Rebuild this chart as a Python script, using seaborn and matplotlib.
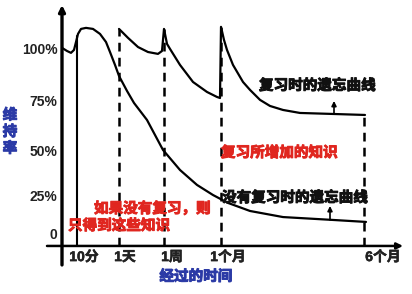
import numpy as np
import pandas as pd
import matplotlib
matplotlib.use("Agg")
import matplotlib.pyplot as plt
import matplotlib.patheffects as pe
import seaborn as sns

# ---------------- data ----------------
tick_labels = ["10分", "1天", "1周", "1个月", "6个月"]
tick_pos = [1.5, 5.7, 10.2, 15.9, 30.2]          # time positions on the (non-linear) time axis

ytick_values = [0, 25, 50, 75, 100]
ytick_labels = ["0", "25%", "50%", "75%", "100%"]

# forgetting curve without review
noreview_x = [0, 0.5, 0.9, 1.2, 1.4, 1.6, 1.9, 2.4, 3.1, 3.8, 4.4, 4.8, 5.3, 5.7,
              6.5, 7.2, 8.5, 10.1, 11.8, 13.5, 15.1, 16.6, 18.8, 22.1, 27.1, 30.4]
noreview_y = [101.0, 99.5, 98.6, 100.0, 103.8, 107.7, 110.1, 110.6, 110.1, 107.7, 103.8,
              99.0, 92.8, 87.5, 80.3, 74.5, 66.0, 51.0, 40.0, 31.7, 26.1, 21.1, 15.8,
              11.8, 9.9, 8.6]

# forgetting curve with review (reviews at 1天, 1周, 1个月)
review_x = [5.7, 6.1, 6.6, 7.6, 8.6, 9.6, 10.0, 10.2, 10.5, 10.8, 11.8, 13.1, 14.5,
            15.5, 15.8, 15.9, 16.2, 16.5, 17.1, 18.1, 18.8, 19.8, 20.8, 22.1, 23.8,
            27.1, 30.3]
review_y = [110.1, 108.2, 105.8, 101.4, 99.0, 98.1, 99.5, 110.1, 102.9, 100.5, 92.8,
            84.6, 79.8, 77.4, 76.9, 111.1, 104.8, 100.0, 92.8, 84.6, 80.8, 76.0, 73.0,
            71.0, 69.5, 69.0, 68.5]

# ---------------- style ----------------
sns.set_theme(style="white")
plt.rcParams["font.family"] = ["Noto Sans CJK SC", "DejaVu Sans"]

fig = plt.figure(figsize=(4.12, 2.94), dpi=100)
fig.patch.set_facecolor("white")
ax = fig.add_axes([0, 0, 1, 1])

# hand-drawn, uneven percentage axis -> piecewise-linear scale
P = [-60, 0, 25, 50, 75, 100, 160]
H = [-91.2, 0, 38, 83, 133, 185, 309.8]
fwd = lambda v: np.interp(v, P, H)
inv = lambda v: np.interp(v, H, P)
ax.set_yscale("function", functions=(fwd, inv))
ax.set_xlim(-6.2, 35.0)
ax.set_ylim(-38.8, 124.0)
ax.axis("off")

df_no = pd.DataFrame({"t": noreview_x, "r": noreview_y})
df_rv = pd.DataFrame({"t": review_x, "r": review_y})
sns.lineplot(data=df_no, x="t", y="r", sort=False, estimator=None, color="black",
             lw=1.6, ax=ax)
sns.lineplot(data=df_rv, x="t", y="r", sort=False, estimator=None, color="black",
             lw=1.6, ax=ax)

axis_y = -7.2
# axes with arrows
ax.annotate("", xy=(0, 121.6), xytext=(0, -19.7),
            arrowprops=dict(arrowstyle="-|>", lw=2.4, color="black", mutation_scale=9,
                            shrinkA=0, shrinkB=0))
ax.annotate("", xy=(34.1, axis_y), xytext=(-1.5, axis_y),
            arrowprops=dict(arrowstyle="-|>", lw=1.8, color="black", mutation_scale=9,
                            shrinkA=0, shrinkB=0))

# vertical marker lines
ax.plot([tick_pos[0], tick_pos[0]], [axis_y, 106.7], color="black", lw=1.5)
tops = [review_y[0], review_y[7], review_y[15], review_y[-1]]
for xp, top in zip(tick_pos[1:], tops):
    ax.plot([xp, xp], [axis_y, top], color="black", lw=1.8, ls=(0, (3.5, 2.5)))

# small arrows pointing to curves
ax.annotate("", xy=(27.2, 75.5), xytext=(27.2, 69.0),
            arrowprops=dict(arrowstyle="-|>", lw=1.2, color="black", mutation_scale=7,
                            shrinkA=0, shrinkB=0))
ax.annotate("", xy=(26.8, 19.1), xytext=(26.8, 9.9),
            arrowprops=dict(arrowstyle="-|>", lw=1.2, color="black", mutation_scale=7,
                            shrinkA=0, shrinkB=0))

def bold(c, w=0.7):
    return [pe.withStroke(linewidth=w, foreground=c)]

# tick labels
lab_fam = ["Liberation Sans", "Noto Sans CJK SC"]
label_x = [2.2, 6.3, 11.0, 16.6, 32.1]
for lx, t in zip(label_x, tick_labels):
    ax.text(lx, -14.5, t, ha="center", va="center", fontsize=10, fontweight="bold",
            family=lab_fam, color="#222222", path_effects=bold("#222222", 0.4))
for v, t in zip(ytick_values, ytick_labels):
    ax.text(-0.45, v, t, ha="right", va="center", fontsize=10, fontweight="bold",
            family=lab_fam, color="#222222")

blue = "#2b3aa6"
ax.text(-5.2, 60.5, "维\n持\n率", ha="center", va="center", fontsize=10.5,
        fontweight="bold", color=blue, linespacing=1.05, path_effects=bold(blue))
ax.text(13.4, -26.8, "经过的时间", ha="center", va="center", fontsize=10.5,
        fontweight="bold", color=blue, path_effects=bold(blue))

dark = "#111111"
ax.text(19.7, 83.2, "复习时的遗忘曲线", ha="left", va="center", fontsize=10.5,
        fontweight="bold", color=dark, path_effects=bold(dark))
ax.text(16.0, 25.0, "没有复习时的遗忘曲线", ha="left", va="center", fontsize=10.5,
        fontweight="bold", color=dark, path_effects=bold(dark))

red = "#e0261f"
ax.text(15.9, 50.0, "复习所增加的知识", ha="left", va="center", fontsize=10.5,
        fontweight="bold", color=red, path_effects=bold(red))
ax.text(3.2, 17.8, "如果没有复习，则", ha="left", va="center", fontsize=10.5,
        fontweight="bold", color=red, path_effects=bold(red))
ax.text(0.6, 6.6, "只得到这些知识", ha="left", va="center", fontsize=10.5,
        fontweight="bold", color=red, path_effects=bold(red))

fig.savefig("out.png", dpi=100, facecolor="white")
